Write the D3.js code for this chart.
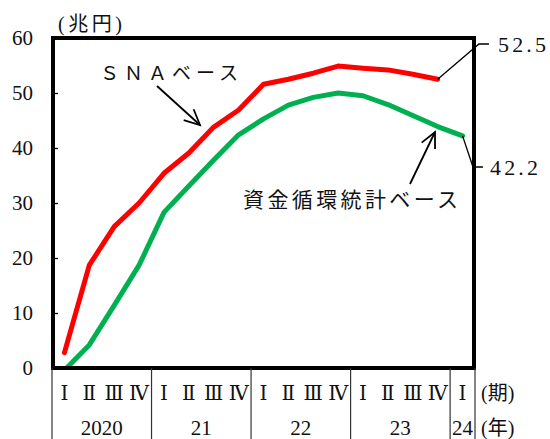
<!DOCTYPE html>
<html><head><meta charset="utf-8">
<script src="https://cdn.jsdelivr.net/npm/d3@7/dist/d3.min.js"></script>
<style>
html,body{margin:0;padding:0;background:#fff;}
svg{display:block;}
.serif{font-family:"Liberation Serif","DejaVu Serif","Noto Sans CJK JP",serif;}
.cjk{font-family:"Noto Sans CJK JP","Liberation Serif",sans-serif;}
</style></head>
<body>
<svg id="chart" width="550" height="439"></svg>
<script>
// ---- data ----
const periods = ["2020Q1","2020Q2","2020Q3","2020Q4","2021Q1","2021Q2","2021Q3","2021Q4",
                 "2022Q1","2022Q2","2022Q3","2022Q4","2023Q1","2023Q2","2023Q3","2023Q4","2024Q1"];
const quarterLabels = ["Ⅰ","Ⅱ","Ⅲ","Ⅳ","Ⅰ","Ⅱ","Ⅲ","Ⅳ","Ⅰ","Ⅱ","Ⅲ","Ⅳ","Ⅰ","Ⅱ","Ⅲ","Ⅳ","Ⅰ"];
const yearLabels = ["2020","21","22","23","24"];
const yearStartIdx = [0,4,8,12,16];
const yTicks = [0,10,20,30,40,50,60];
const snaValues = [2.8,18.7,25.7,30.0,35.4,39.1,43.8,46.9,51.6,52.5,53.6,54.9,54.5,54.2,53.4,52.5];
const flowValues = [-0.4,4.2,11.4,18.7,28.3,33.1,37.8,42.4,45.3,47.8,49.2,50.0,49.5,47.9,45.9,43.9,42.2];
const snaLabel = "ＳＮＡベース";
const flowLabel = "資金循環統計ベース";
const unitLabel = "(兆円)";
const periodUnit = "(期)";
const yearUnit = "(年)";

// ---- layout ----
const svg = d3.select("#chart");
const L = 53, R = 474, T = 38, B = 368;

const x = d3.scaleBand().domain(d3.range(periods.length)).range([L - 1, R + 1]).padding(0);
const bw = x.bandwidth();
const xc = i => x(i) + bw / 2;
const y = d3.scaleLinear().domain([0, 60]).range([B, T]);

svg.append("defs").append("clipPath").attr("id", "plotclip")
  .append("rect").attr("x", L).attr("y", T).attr("width", R - L).attr("height", B - T);

// y axis (ticks inside)
const yAxis = d3.axisLeft(y).tickValues(yTicks).tickSize(-5).tickPadding(20).tickFormat(d3.format("d"));
const gy = svg.append("g").attr("transform", `translate(${L},0)`).call(yAxis)
  .attr("font-family", null).attr("font-size", null);
gy.select(".domain").remove();
gy.selectAll(".tick line").attr("stroke", "#000").attr("stroke-width", 1.3);
gy.selectAll(".tick text").attr("class", "serif").style("font-size", "21px").attr("fill", "#111");

// lines
const line = d3.line().x((d, i) => xc(i)).y(d => y(d));
const lines = svg.append("g").attr("clip-path", "url(#plotclip)");
lines.append("path").datum(flowValues).attr("d", line)
  .attr("fill", "none").attr("stroke", "#00b050").attr("stroke-width", 5)
  .attr("stroke-linejoin", "round").attr("stroke-linecap", "round");
lines.append("path").datum(snaValues).attr("d", line)
  .attr("fill", "none").attr("stroke", "#ff0000").attr("stroke-width", 5)
  .attr("stroke-linejoin", "round").attr("stroke-linecap", "round");

// frame
svg.append("rect").attr("x", L).attr("y", T).attr("width", R - L).attr("height", B - T)
  .attr("fill", "none").attr("stroke", "#000").attr("stroke-width", 4);

// unit label
svg.append("text").attr("class", "serif").attr("x", 58).attr("y", 24)
  .attr("dominant-baseline", "central").style("font-size", "20px").attr("fill", "#111")
  .attr("textLength", 64).attr("lengthAdjust", "spacing").text(unitLabel);

// category table below
const tableTop = B, tableBot = 439;
const bounds = yearStartIdx.map(i => x(i)).concat([x(periods.length - 1) + bw]);
svg.append("g").selectAll("line").data(bounds).join("line")
  .attr("x1", d => d).attr("x2", d => d).attr("y1", tableTop).attr("y2", tableBot)
  .attr("stroke", "#333").attr("stroke-width", 1.2);
svg.append("g").selectAll("text").data(quarterLabels).join("text")
  .attr("class", "serif")
  .attr("x", (d, i) => xc(i)).attr("y", 393).attr("text-anchor", "middle")
  .attr("dominant-baseline", "central").style("font-size", "20px")
  .attr("fill", "#111").text(d => d);
svg.append("g").selectAll("text").data(yearLabels).join("text")
  .attr("class", "serif")
  .attr("x", (d, k) => (bounds[k] + bounds[k + 1]) / 2).attr("y", 428).attr("text-anchor", "middle")
  .attr("dominant-baseline", "central").style("font-size", "21px")
  .attr("fill", "#111").text(d => d);
svg.append("text").attr("class", "serif").attr("x", 481).attr("y", 393).attr("dominant-baseline", "central")
  .style("font-size", "20px").attr("fill", "#111").text(periodUnit);
svg.append("text").attr("class", "serif").attr("x", 481).attr("y", 428).attr("dominant-baseline", "central")
  .style("font-size", "20px").attr("fill", "#111").text(yearUnit);

// end value labels with leader lines
const fmt = d3.format(".1f");
function endLabel(vals, tx, ty, textX) {
  const i = vals.length - 1;
  svg.append("polyline")
    .attr("points", `${xc(i)},${y(vals[i])} ${tx},${ty} ${tx + 10},${ty}`)
    .attr("fill", "none").attr("stroke", "#000").attr("stroke-width", 1.3);
  svg.append("text").attr("class", "serif").attr("x", textX).attr("y", ty).attr("dominant-baseline", "central")
    .style("font-size", "22px").attr("fill", "#111")
    .attr("textLength", 48).attr("lengthAdjust", "spacing")
    .text(fmt(vals[i]));
}
endLabel(snaValues, 479, 44, 498);
endLabel(flowValues, 473, 167, 490);

// annotations
svg.append("text").attr("class", "cjk").attr("x", 100).attr("y", 71).attr("dominant-baseline", "central")
  .style("font-size", "19px").attr("fill", "#111")
  .attr("textLength", 138).attr("lengthAdjust", "spacing").text(snaLabel);
svg.append("text").attr("class", "cjk").attr("x", 243).attr("y", 198).attr("dominant-baseline", "central")
  .style("font-size", "21px").attr("fill", "#111")
  .attr("textLength", 215).attr("lengthAdjust", "spacing").text(flowLabel);

function arrow(x1, y1, x2, y2) {
  const g = svg.append("g").attr("stroke", "#000").attr("stroke-width", 1.8).attr("fill", "none");
  g.append("line").attr("x1", x1).attr("y1", y1).attr("x2", x2).attr("y2", y2);
  const a = Math.atan2(y2 - y1, x2 - x1), len = 17, sp = 0.45;
  g.append("polyline").attr("points",
    `${x2 - len * Math.cos(a - sp)},${y2 - len * Math.sin(a - sp)} ${x2},${y2} ${x2 - len * Math.cos(a + sp)},${y2 - len * Math.sin(a + sp)}`);
}
arrow(157, 86, 200, 125);
arrow(410, 184, 435, 132);
</script>
</body></html>
